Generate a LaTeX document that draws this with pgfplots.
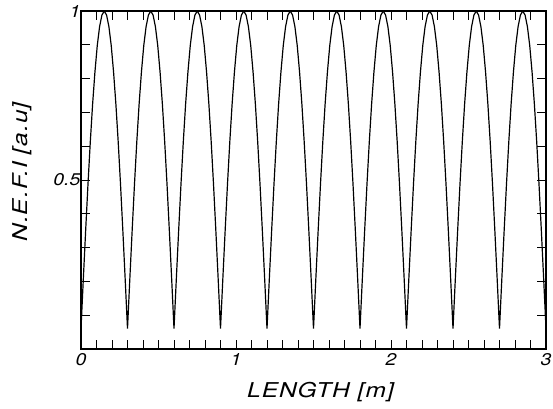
\documentclass[border=0pt]{standalone}
\usepackage{fontspec}
\setmainfont{TeX Gyre Heros}
\newfontfamily\labf[FakeStretch=1.2,LetterSpace=5]{TeX Gyre Heros}
\newfontfamily\tickf[FakeStretch=1.15]{TeX Gyre Heros}
\usepackage{pgfplots}
\pgfplotsset{compat=1.18}
\begin{document}
\begin{tikzpicture}
\begin{axis}[
  at={(0,0)}, anchor=south west,
  scale only axis, width=465bp, height=338bp,
  xmin=0, xmax=3, ymin=0, ymax=1,
  xtick={0,1,2,3}, minor x tick num=9,
  ytick={0.5,1}, minor ytick={0.1,0.2,0.3,0.4,0.6,0.7,0.8,0.9},
  xticklabels={0,1,2,3},
  yticklabels={0.5,1},
  tick align=inside, xtick pos=both, ytick pos=both,
  major tick length=9bp, minor tick length=9bp,
  every tick/.style={black, line width=0.8pt},
  axis line style={line width=1.4pt},
  every tick label/.style={font=\tickf\fontsize{17}{19}\selectfont\itshape},
  xticklabel style={yshift=-1bp},
  yticklabel style={xshift=3bp},
  xlabel={LENGTH [m]},
  ylabel={N.E.F.I [a.u]},
  label style={font=\labf\fontsize{20.5}{22}\selectfont\itshape},
  xlabel style={at={(axis description cs:0.5,0)}, anchor=center, yshift=-43bp, xshift=7bp},
  ylabel style={at={(axis description cs:-0.127,0.524)}, anchor=center},
]
\addplot[black, line width=1.2pt] coordinates {
(0,0.060) (0.015,0.207) (0.03,0.350) (0.045,0.487) (0.06,0.613) (0.075,0.725) (0.09,0.820) (0.105,0.898) (0.12,0.954) (0.135,0.988) (0.15,1.000) (0.165,0.988) (0.18,0.954) (0.195,0.898) (0.21,0.820) (0.225,0.725) (0.24,0.613) (0.255,0.487) (0.27,0.350) (0.285,0.207)
(0.3,0.060) (0.315,0.207) (0.33,0.350) (0.345,0.487) (0.36,0.613) (0.375,0.725) (0.39,0.820) (0.405,0.898) (0.42,0.954) (0.435,0.988) (0.45,1.000) (0.465,0.988) (0.48,0.954) (0.495,0.898) (0.51,0.820) (0.525,0.725) (0.54,0.613) (0.555,0.487) (0.57,0.350) (0.585,0.207)
(0.6,0.060) (0.615,0.207) (0.63,0.350) (0.645,0.487) (0.66,0.613) (0.675,0.725) (0.69,0.820) (0.705,0.898) (0.72,0.954) (0.735,0.988) (0.75,1.000) (0.765,0.988) (0.78,0.954) (0.795,0.898) (0.81,0.820) (0.825,0.725) (0.84,0.613) (0.855,0.487) (0.87,0.350) (0.885,0.207)
(0.9,0.060) (0.915,0.207) (0.93,0.350) (0.945,0.487) (0.96,0.613) (0.975,0.725) (0.99,0.820) (1.005,0.898) (1.02,0.954) (1.035,0.988) (1.05,1.000) (1.065,0.988) (1.08,0.954) (1.095,0.898) (1.11,0.820) (1.125,0.725) (1.14,0.613) (1.155,0.487) (1.17,0.350) (1.185,0.207)
(1.2,0.060) (1.215,0.207) (1.23,0.350) (1.245,0.487) (1.26,0.613) (1.275,0.725) (1.29,0.820) (1.305,0.898) (1.32,0.954) (1.335,0.988) (1.35,1.000) (1.365,0.988) (1.38,0.954) (1.395,0.898) (1.41,0.820) (1.425,0.725) (1.44,0.613) (1.455,0.487) (1.47,0.350) (1.485,0.207)
(1.5,0.060) (1.515,0.207) (1.53,0.350) (1.545,0.487) (1.56,0.613) (1.575,0.725) (1.59,0.820) (1.605,0.898) (1.62,0.954) (1.635,0.988) (1.65,1.000) (1.665,0.988) (1.68,0.954) (1.695,0.898) (1.71,0.820) (1.725,0.725) (1.74,0.613) (1.755,0.487) (1.77,0.350) (1.785,0.207)
(1.8,0.060) (1.815,0.207) (1.83,0.350) (1.845,0.487) (1.86,0.613) (1.875,0.725) (1.89,0.820) (1.905,0.898) (1.92,0.954) (1.935,0.988) (1.95,1.000) (1.965,0.988) (1.98,0.954) (1.995,0.898) (2.01,0.820) (2.025,0.725) (2.04,0.613) (2.055,0.487) (2.07,0.350) (2.085,0.207)
(2.1,0.060) (2.115,0.207) (2.13,0.350) (2.145,0.487) (2.16,0.613) (2.175,0.725) (2.19,0.820) (2.205,0.898) (2.22,0.954) (2.235,0.988) (2.25,1.000) (2.265,0.988) (2.28,0.954) (2.295,0.898) (2.31,0.820) (2.325,0.725) (2.34,0.613) (2.355,0.487) (2.37,0.350) (2.385,0.207)
(2.4,0.060) (2.415,0.207) (2.43,0.350) (2.445,0.487) (2.46,0.613) (2.475,0.725) (2.49,0.820) (2.505,0.898) (2.52,0.954) (2.535,0.988) (2.55,1.000) (2.565,0.988) (2.58,0.954) (2.595,0.898) (2.61,0.820) (2.625,0.725) (2.64,0.613) (2.655,0.487) (2.67,0.350) (2.685,0.207)
(2.7,0.060) (2.715,0.207) (2.73,0.350) (2.745,0.487) (2.76,0.613) (2.775,0.725) (2.79,0.820) (2.805,0.898) (2.82,0.954) (2.835,0.988) (2.85,1.000) (2.865,0.988) (2.88,0.954) (2.895,0.898) (2.91,0.820) (2.925,0.725) (2.94,0.613) (2.955,0.487) (2.97,0.350) (2.985,0.207)
(3.0,0.060)
};
\end{axis}
\pgfresetboundingbox
\path (-81bp,-60bp) rectangle (472bp,349bp);
\end{tikzpicture}
\end{document}
